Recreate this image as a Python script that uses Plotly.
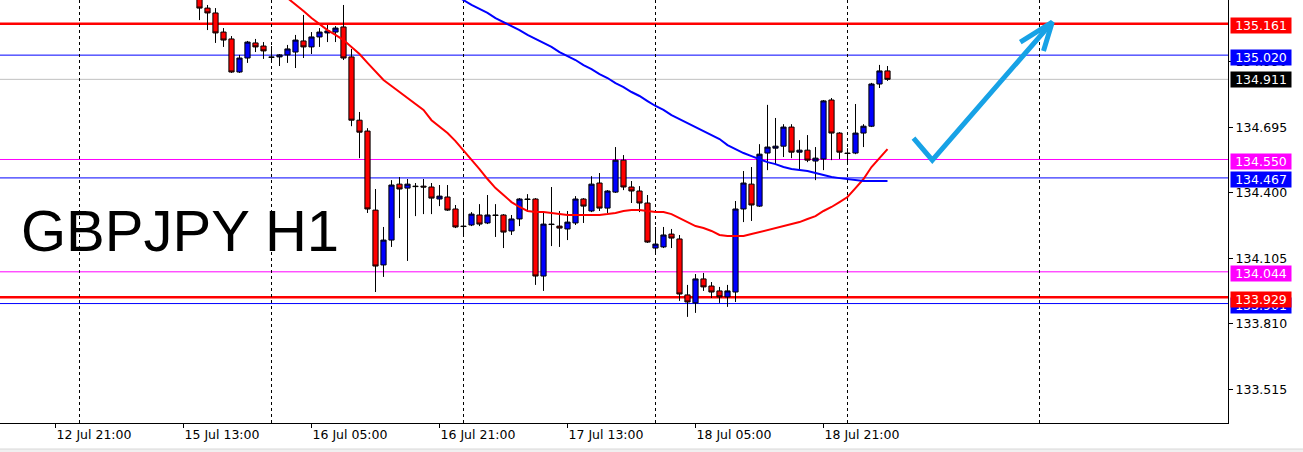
import plotly.graph_objects as go

# ---------------- data (GBPJPY H1) ----------------
opens = [135.282, 135.232, 135.210, 135.124, 135.093, 134.944, 135.007, 135.075, 135.061, 135.012,
         135.012, 135.021, 135.034, 135.084, 135.057, 135.102, 135.120, 135.124, 135.147, 135.012,
         134.727, 134.678, 134.322, 134.075, 134.187, 134.439, 134.421, 134.430, 134.430, 134.426,
         134.372, 134.381, 134.327, 134.250, 134.255, 134.300, 134.264, 134.300, 134.300, 134.228,
         134.282, 134.372, 134.372, 134.025, 134.259, 134.250, 134.237, 134.264, 134.372, 134.318,
         134.444, 134.331, 134.403, 134.547, 134.426, 134.408, 134.354, 134.151, 134.156, 134.214,
         134.192, 133.940, 133.904, 134.012, 133.980, 133.958, 133.931, 133.953, 134.327, 134.439,
         134.340, 134.579, 134.601, 134.610, 134.696, 134.583, 134.592, 134.543, 134.552, 134.818,
         134.669, 134.579, 134.579, 134.669, 134.700, 134.890, 134.949]
highs = [135.313, 135.246, 135.232, 135.142, 135.106, 135.021, 135.084, 135.093, 135.079, 135.061,
         135.025, 135.066, 135.111, 135.201, 135.124, 135.142, 135.156, 135.151, 135.246, 135.048,
         134.764, 134.691, 134.417, 134.246, 134.457, 134.471, 134.462, 134.444, 134.462, 134.444,
         134.435, 134.435, 134.345, 134.376, 134.313, 134.349, 134.390, 134.349, 134.304, 134.300,
         134.376, 134.394, 134.376, 134.309, 134.426, 134.318, 134.318, 134.385, 134.376, 134.475,
         134.489, 134.412, 134.606, 134.570, 134.453, 134.430, 134.390, 134.246, 134.246, 134.237,
         134.210, 133.985, 134.034, 134.039, 133.998, 133.976, 133.985, 134.363, 134.498, 134.516,
         134.619, 134.796, 134.737, 134.709, 134.709, 134.637, 134.660, 134.606, 134.818, 134.827,
         134.673, 134.601, 134.800, 134.709, 134.895, 134.976, 134.971]
lows = [135.178, 135.133, 135.075, 135.057, 134.940, 134.940, 134.985, 135.034, 135.003, 134.998,
        134.971, 134.985, 134.962, 135.007, 135.025, 135.057, 135.079, 135.079, 134.998, 134.700,
        134.556, 134.309, 133.953, 134.021, 134.156, 134.286, 134.093, 134.295, 134.304, 134.304,
        134.340, 134.318, 134.241, 134.201, 134.250, 134.250, 134.259, 134.201, 134.151, 134.210,
        134.250, 134.322, 133.985, 133.958, 134.160, 134.156, 134.187, 134.255, 134.264, 134.313,
        134.318, 134.309, 134.399, 134.412, 134.354, 134.313, 134.174, 134.120, 134.151, 134.151,
        133.913, 133.841, 133.859, 133.958, 133.926, 133.904, 133.886, 133.908, 134.268, 134.273,
        134.336, 134.502, 134.525, 134.561, 134.556, 134.502, 134.538, 134.457, 134.502, 134.547,
        134.552, 134.534, 134.574, 134.606, 134.696, 134.872, 134.904]
closes = [135.232, 135.210, 135.120, 135.088, 134.944, 135.007, 135.079, 135.057, 135.039, 135.010,
          135.021, 135.048, 135.088, 135.057, 135.102, 135.124, 135.129, 135.142, 135.007, 134.727,
          134.673, 134.327, 134.070, 134.187, 134.435, 134.417, 134.439, 134.428, 134.426, 134.376,
          134.385, 134.322, 134.246, 134.248, 134.304, 134.259, 134.300, 134.298, 134.223, 134.282,
          134.372, 134.370, 134.025, 134.259, 134.257, 134.241, 134.268, 134.372, 134.340, 134.439,
          134.331, 134.408, 134.547, 134.426, 134.408, 134.354, 134.178, 134.169, 134.210, 134.196,
          133.944, 133.908, 134.012, 133.976, 133.953, 133.931, 133.958, 134.327, 134.444, 134.345,
          134.574, 134.606, 134.610, 134.696, 134.583, 134.592, 134.547, 134.556, 134.814, 134.669,
          134.583, 134.577, 134.669, 134.700, 134.890, 134.949, 134.911]

# moving averages (first bar index where each is drawn)
ma_red_start = 11
ma_red = [135.277, 135.250, 135.219, 135.187, 135.160, 135.133, 135.111, 135.088, 135.057, 135.025,
          134.985, 134.948, 134.908, 134.881, 134.854, 134.827, 134.800, 134.773, 134.727, 134.696,
          134.669, 134.633, 134.592, 134.547, 134.507, 134.462, 134.421, 134.390, 134.358, 134.336,
          134.318, 134.313, 134.313, 134.309, 134.304, 134.300, 134.300, 134.300, 134.300, 134.300,
          134.304, 134.309, 134.318, 134.322, 134.322, 134.318, 134.313, 134.313, 134.304, 134.286,
          134.268, 134.250, 134.241, 134.228, 134.210, 134.205, 134.205, 134.205, 134.214, 134.223,
          134.232, 134.241, 134.250, 134.259, 134.268, 134.282, 134.295, 134.318, 134.336, 134.358,
          134.381, 134.421, 134.462, 134.516, 134.556, 134.597]
ma_blue_start = 32
ma_blue = [135.290, 135.268, 135.246, 135.228, 135.210, 135.187, 135.169, 135.151, 135.133, 135.111,
           135.093, 135.075, 135.057, 135.034, 135.016, 134.998, 134.975, 134.957, 134.935, 134.917,
           134.894, 134.876, 134.854, 134.836, 134.813, 134.791, 134.773, 134.750, 134.732, 134.714,
           134.696, 134.678, 134.660, 134.642, 134.615, 134.597, 134.579, 134.565, 134.552, 134.538,
           134.529, 134.516, 134.507, 134.502, 134.498, 134.489, 134.480, 134.471, 134.466, 134.462,
           134.457, 134.453, 134.453, 134.453, 134.453]

# horizontal levels with their price tags
levels = [135.161, 135.020, 134.911, 134.550, 134.467, 134.044, 133.901, 133.929]
level_line_colors = ["#ff0000", "#0000ff", "#c0c0c0", "#ff00ff", "#0000ff", "#ff00ff", "#0000ff", "#ff0000"]
level_tag_colors = ["#ff0000", "#0000ff", "#000000", "#ff00ff", "#0000ff", "#ff00ff", "#0000ff", "#ff0000"]
level_widths = [2.5, 1, 1, 1, 1, 1, 1, 2.5]

# price axis ticks
price_ticks = [133.515, 133.810, 134.105, 134.400, 134.695, 134.990]

# time axis (bar offsets relative to first drawn bar)
time_tick_pos = [-18, -2, 14, 30, 46, 62, 78]
time_tick_text = ["12 Jul 21:00", "15 Jul 13:00", "16 Jul 05:00", "16 Jul 21:00",
                  "17 Jul 13:00", "18 Jul 05:00", "18 Jul 21:00"]
day_sep_pos = [-15, 9, 33, 57, 81, 105]

# hand-drawn check/arrow (bar offset, price)
check_x = [89.25, 91.6, 106.6, None, 102.6, 106.6, 105.5]
check_y = [134.646, 134.547, 135.169, None, 135.079, 135.169, 135.039]

x_range = [-24.9375, 128.5625]
y_range = [133.363, 135.2684]

# ---------------- figure ----------------
bars = list(range(len(opens)))
fig = go.Figure()

fig.add_trace(go.Candlestick(
    x=bars, open=opens, high=highs, low=lows, close=closes,
    increasing=dict(fillcolor="#0000ff", line=dict(color="#000000", width=1)),
    decreasing=dict(fillcolor="#ff0000", line=dict(color="#000000", width=1)),
    whiskerwidth=0, hoverinfo="skip", showlegend=False))

fig.add_trace(go.Scatter(
    x=list(range(ma_red_start, ma_red_start + len(ma_red))), y=ma_red, mode="lines",
    line=dict(color="#ff0000", width=2), hoverinfo="skip", showlegend=False))
fig.add_trace(go.Scatter(
    x=list(range(ma_blue_start, ma_blue_start + len(ma_blue))), y=ma_blue, mode="lines",
    line=dict(color="#0000ff", width=2), hoverinfo="skip", showlegend=False))

fig.add_trace(go.Scatter(
    x=check_x, y=check_y, mode="lines",
    line=dict(color="#17a2e6", width=5), hoverinfo="skip", showlegend=False))

shapes = []
for lv, col, w in zip(levels, level_line_colors, level_widths):
    shapes.append(dict(type="line", xref="paper", x0=0, x1=1, yref="y", y0=lv, y1=lv,
                       line=dict(color=col, width=w), layer="below"))
# thin window edge at the very bottom
shapes.append(dict(type="rect", xref="paper", x0=-0.01, x1=1303 / 1228 + 0.01,
                   yref="paper", y0=(423 - 452) / 423, y1=(423 - 449) / 423,
                   line=dict(width=0), fillcolor="#f0f0f0"))
shapes.append(dict(type="line", xref="paper", x0=0, x1=1303 / 1228,
                   yref="paper", y0=(423 - 449) / 423, y1=(423 - 449) / 423,
                   line=dict(color="#d8d8d8", width=1)))

annotations = []
for lv, col in zip(levels, level_tag_colors):
    annotations.append(dict(
        xref="paper", x=1, xanchor="left", xshift=2, yref="y", y=lv, yanchor="middle",
        yshift=-2 if col != "#000000" else 0,
        text=f"{lv:.3f}", showarrow=False, bgcolor=col, width=60, height=15, borderpad=0,
        align="center", font=dict(color="white", size=12.5, family="DejaVu Sans")))

annotations.append(dict(
    xref="paper", x=0, xanchor="left", xshift=19, yref="paper", y=1 - 230 / 423, yanchor="middle",
    text="GBPJPY H1", showarrow=False,
    font=dict(family="Liberation Sans, Arial", size=58, color="black")))

fig.update_layout(
    width=1303, height=452,
    margin=dict(l=0, r=75, t=0, b=29),
    paper_bgcolor="white", plot_bgcolor="white",
    showlegend=False,
    font=dict(family="DejaVu Sans", size=12.5, color="black"),
    boxgap=0.35, boxgroupgap=0,
    shapes=shapes, annotations=annotations,
    xaxis=dict(range=x_range, rangeslider=dict(visible=False), showgrid=False, zeroline=False,
               showline=True, linecolor="black", linewidth=1,
               tickmode="array", tickvals=time_tick_pos, ticktext=time_tick_text,
               ticks="outside", ticklen=4, tickcolor="black",
               ticklabelposition="outside right",
               minor=dict(tickmode="array", tickvals=day_sep_pos, showgrid=True,
                          gridcolor="black", gridwidth=1, griddash="3px,3px", ticks="")),
    yaxis=dict(range=y_range, side="right", showgrid=False, zeroline=False,
               showline=True, linecolor="black", linewidth=1,
               tickmode="array", tickvals=price_ticks, ticktext=[f"{t:.3f}" for t in price_ticks],
               ticks="outside", ticklen=4, tickcolor="black"),
)

fig.write_html("out.html", post_script="document.body.style.margin='0';",
               config={"displayModeBar": False})
